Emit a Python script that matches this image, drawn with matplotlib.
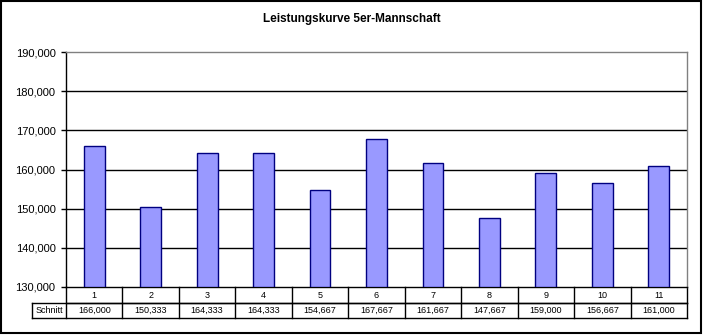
import matplotlib
matplotlib.use("Agg")
import matplotlib.pyplot as plt
from matplotlib.patches import Rectangle
from matplotlib.lines import Line2D
from matplotlib.transforms import blended_transform_factory

plt.rcParams['font.family'] = ['Liberation Sans', 'DejaVu Sans']

title = "Leistungskurve 5er-Mannschaft"
categories = ["1", "2", "3", "4", "5", "6", "7", "8", "9", "10", "11"]
row_label = "Schnitt"
values = [166.000, 150.333, 164.333, 164.333, 154.667, 167.667,
          161.667, 147.667, 159.000, 156.667, 161.000]
y_ticks = [130, 140, 150, 160, 170, 180, 190]


def de_fmt(v):
    return f"{v:,.3f}".replace(".", ",")


W, H = 703, 335
fig = plt.figure(figsize=(W / 100, H / 100), dpi=100)
fig.patch.set_facecolor("white")

# outer chart frame
fig.add_artist(Rectangle((1 / W, 2 / H), 700 / W, 332 / H, transform=fig.transFigure,
                         fill=False, edgecolor="black", linewidth=1.5))

left, right, top, bottom = 66, 687, 52, 287
ax = fig.add_axes([left / W, (H - bottom) / H, (right - left) / W, (bottom - top) / H])

n = len(values)
x = list(range(n))
ax.bar(x, [v - y_ticks[0] for v in values], bottom=y_ticks[0], width=0.37,
       color="#9999FF", edgecolor="#000080", linewidth=1.0, zorder=3)

ax.set_xlim(-0.5, n - 0.5)
ax.set_ylim(y_ticks[0], y_ticks[-1])
ax.set_yticks(y_ticks)
ax.set_yticklabels([de_fmt(t) for t in y_ticks], fontsize=8, color="#000000")
ax.set_xticks([])
for t in y_ticks[1:-1]:
    ax.axhline(t, color="black", linewidth=1.0, zorder=1)
ax.tick_params(axis="y", direction="out", length=3.5, width=1.0, pad=4, colors="black")

for s in ("top", "right"):
    ax.spines[s].set_color("#808080")
    ax.spines[s].set_linewidth(1.0)
for s in ("left", "bottom"):
    ax.spines[s].set_color("black")
    ax.spines[s].set_linewidth(1.0)

fig.text(0.5, (H - 19) / H, title, ha="center", va="center",
         fontsize=8.5, fontweight="bold")

# data table below the axis
tr = blended_transform_factory(ax.transData, ax.transAxes)
ph = bottom - top
r1 = -16 / ph
r2 = -31 / ph
col_w = (right - left) / n
x_lab = -0.5 - (left - 32) / col_w

lines = [
    ((-0.5, n - 0.5), (r1, r1)),
    ((x_lab, n - 0.5), (r1, r1)),
    ((x_lab, n - 0.5), (r2, r2)),
    ((x_lab, x_lab), (r1, r2)),
    ((-0.5, -0.5), (0, r2)),
]
for k in range(1, n + 1):
    lines.append(((k - 0.5, k - 0.5), (0, r2)))
for xs, ys in lines:
    ax.add_line(Line2D(xs, ys, transform=tr, color="black", linewidth=1.0,
                       clip_on=False))

for i, (c, v) in enumerate(zip(categories, values)):
    ax.text(i, r1 / 2, c, transform=tr, ha="center", va="center", fontsize=6.5)
    ax.text(i, (r1 + r2) / 2, de_fmt(v), transform=tr, ha="center", va="center",
            fontsize=6.5)
ax.text((x_lab - 0.5) / 2, (r1 + r2) / 2, row_label, transform=tr, ha="center",
        va="center", fontsize=6.5)

fig.savefig("out.png", dpi=100)
